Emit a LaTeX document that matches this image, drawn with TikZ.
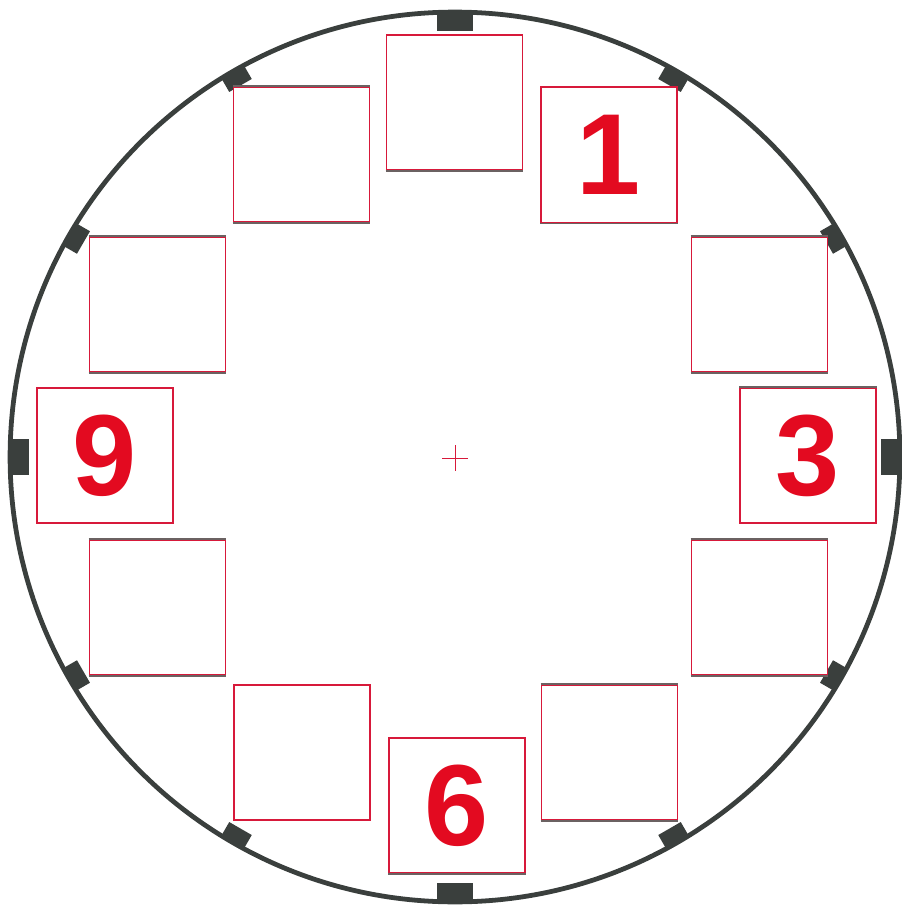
\documentclass[tikz,border=0pt]{standalone}
\usepackage{fontspec}
\setmainfont{Liberation Sans}
\usetikzlibrary{positioning, calc}
\definecolor{dialRed}{HTML}{D7193A}
\definecolor{numRed}{HTML}{E30A20}
\definecolor{rimGray}{HTML}{3A3F3D}
\definecolor{edgeGray}{HTML}{6B6262}
\tikzset{
  slot/.style={rectangle, draw=dialRed, line width=1.3pt, fill=white,
               minimum width=3.4cm, minimum height=3.38cm, inner sep=0pt,
               text=numRed, font=\fontsize{82}{82}\bfseries\selectfont},
  slotedge/.style={draw=edgeGray, line width=1.3pt},
  rim/.style={draw=rimGray, line width=3.4pt},
  tickmark/.style={fill=rimGray},
}
\begin{document}
\begin{tikzpicture}[x=0.025cm, y=-0.025cm]
    \useasboundingbox (0,0) rectangle (901,913);
    \coordinate (c) at (455,457);
    % dial rim
    \draw[rim] (c) circle[radius=11.12cm];
    % hour ticks
    \foreach \a in {0,90,180,270}
      \fill[tickmark, shift={(c)}, rotate=\a] (426,-18) rectangle (446,18);
    \foreach \a in {30,60,120,150,210,240,300,330}
      \fill[tickmark, shift={(c)}, rotate=\a] (429,-13) rectangle (446,13);
    % hour slots
    \foreach \n/\x/\y/\t in {h12/454.5/102.5/{}, h1/609/155/1, h2/759.5/304.5/{},
                             h3/808/455.5/3, h4/759.5/607.5/{}, h5/609.5/752.5/{},
                             h6/457/805.5/6, h7/302/752.5/{}, h8/157.5/607.5/{},
                             h9/105/455.5/9, h10/157.5/304.5/{}, h11/301.5/154.5/{}}
      \node[slot] (\n) at (\x,\y) {\t};
    % greyish top and bottom edges (print register)
    \foreach \n in {h2,h4,h5,h8,h10,h11}
      \draw[slotedge] (\n.north west) -- (\n.north east)
        (\n.south west) -- (\n.south east);
    \draw[slotedge] (h1.south west) -- (h1.south east);
    \draw[slotedge] (h3.north west) -- (h3.north east);
    \draw[slotedge] (h6.south west) -- (h6.south east);
    \draw[slotedge] (h12.south west) -- (h12.south east);
    % centre mark
    \draw[dialRed, line width=0.5pt] ($(c)+(-13,1)$) -- ($(c)+(13,1)$)
      ($(c)+(0,-12)$) -- ($(c)+(0,14)$);
\end{tikzpicture}
\end{document}
